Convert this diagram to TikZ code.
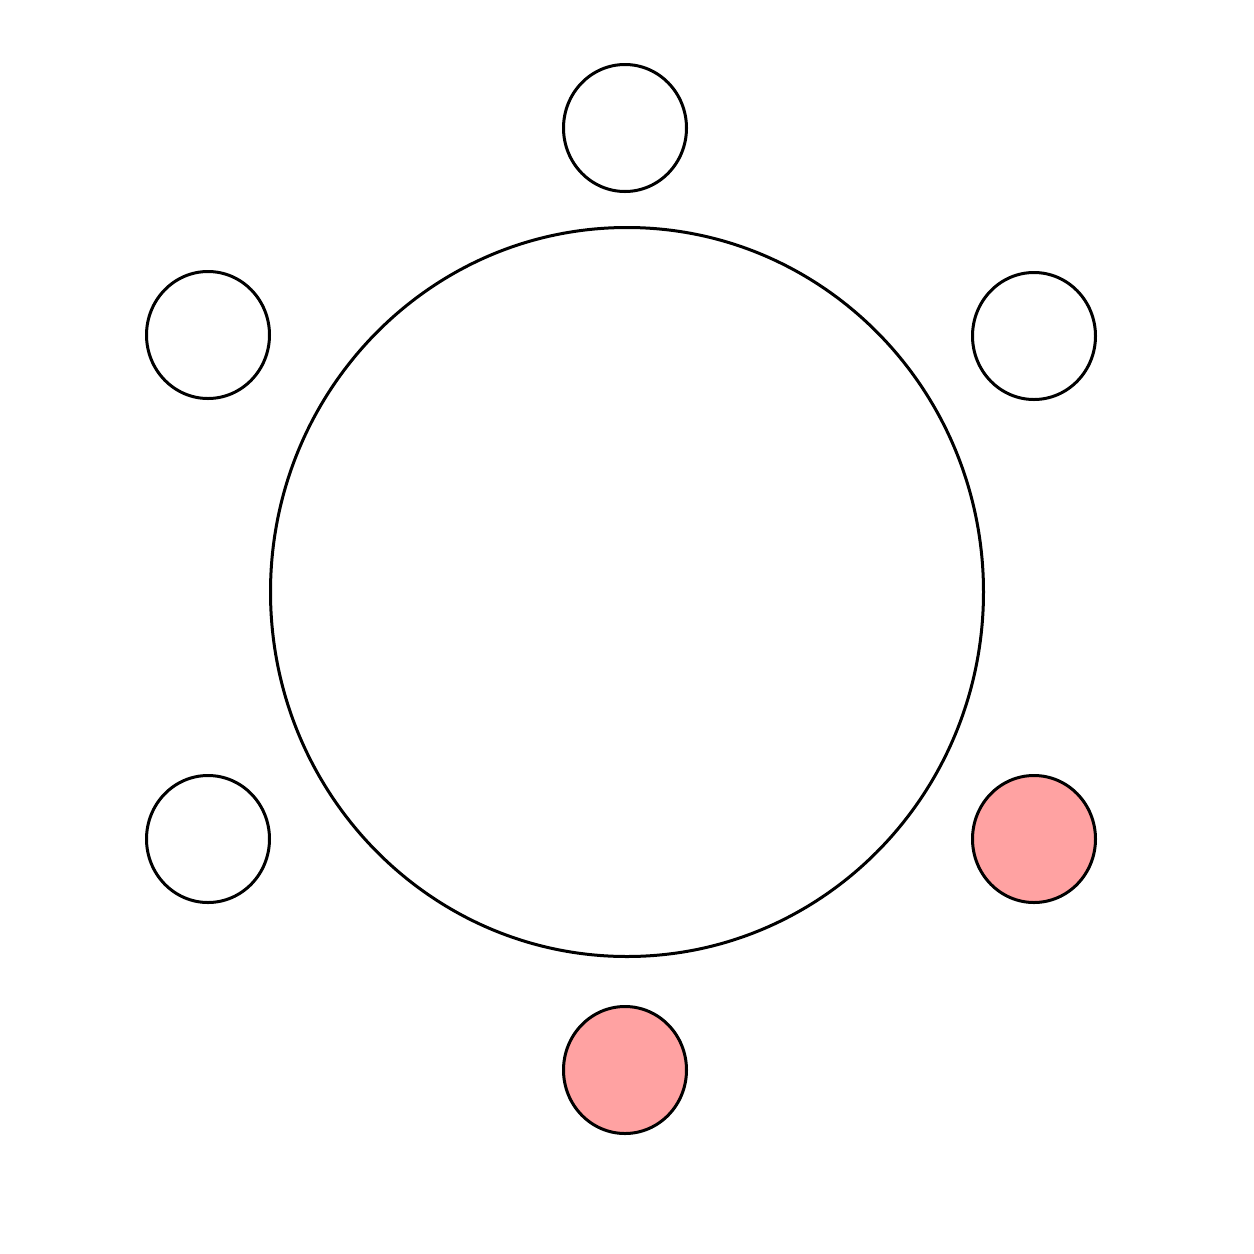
\documentclass[tikz,border=0pt]{standalone}
\usetikzlibrary{shapes.geometric}
\definecolor{pinkfill}{HTML}{FFA2A2}
\begin{document}
\begin{tikzpicture}[x=1pt,y=-1pt,
  ring/.style={ellipse,draw=black,line width=3pt,inner sep=0pt},
  small/.style={ring,minimum width=123pt,minimum height=127pt,fill=white},
  hot/.style={small,fill=pinkfill}]
\useasboundingbox (0,0) rectangle (1254,1254);
\node[ring,minimum width=713pt,minimum height=729pt] (big) at (627,592) {};
\node[small] (top) at (625,128) {};
\node[small] (ul) at (208,335) {};
\node[small] (ur) at (1034,336) {};
\node[small] (ll) at (208,839) {};
\node[hot] (lr) at (1034,839) {};
\node[hot] (bot) at (625,1070) {};
\end{tikzpicture}
\end{document}
